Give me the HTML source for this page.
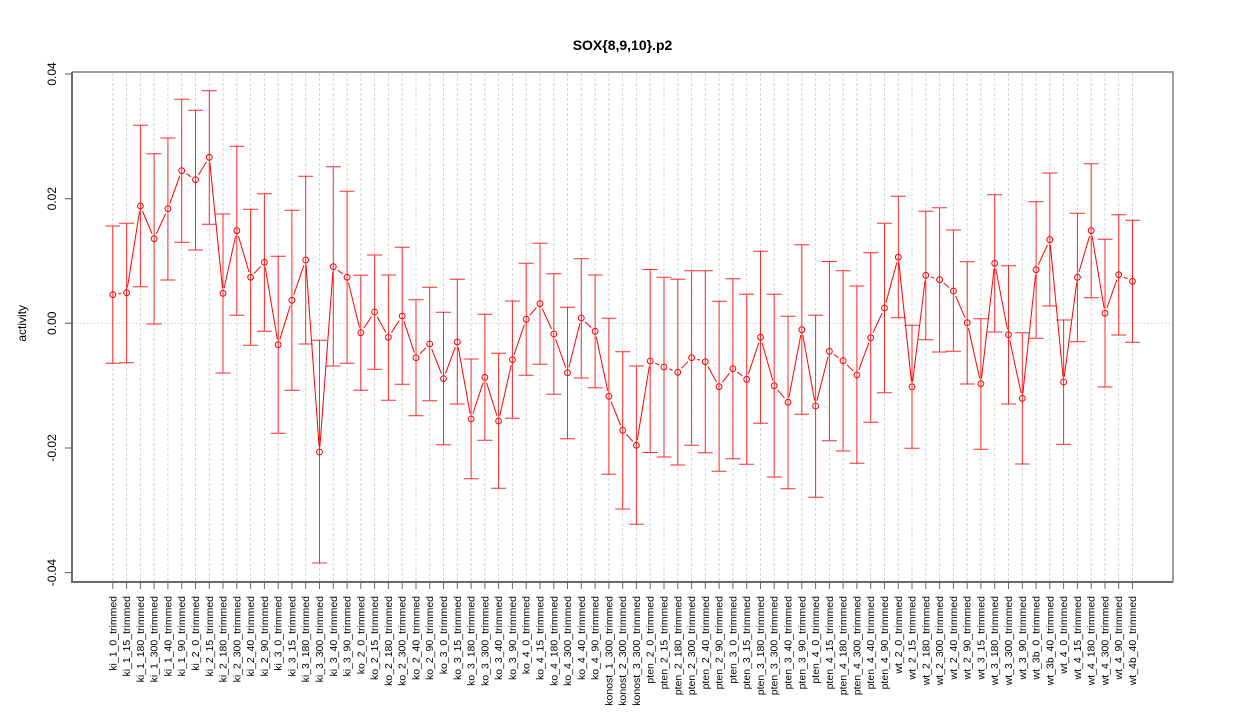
<!DOCTYPE html>
<html>
<head>
<meta charset="utf-8">
<style>
html,body{margin:0;padding:0;background:#fff;}
svg{display:block;}
text{font-family:"Liberation Sans",Arial,sans-serif;fill:#000;}
.xl{font-size:10.5px;text-anchor:end;}
.yl{font-size:12px;text-anchor:middle;}
</style>
</head>
<body>
<svg width="1245" height="720" viewBox="0 0 1245 720" xmlns="http://www.w3.org/2000/svg">
<defs>
<marker id="mk" markerWidth="14" markerHeight="14" refX="7" refY="7" markerUnits="userSpaceOnUse" overflow="visible"><circle cx="7" cy="7" r="5.5" fill="#000"/></marker>
<marker id="pc" markerWidth="14" markerHeight="14" refX="7" refY="7" markerUnits="userSpaceOnUse" overflow="visible"><circle cx="7" cy="7" r="2.9" fill="none" stroke="#ff0000" stroke-width="1"/></marker>
<mask id="gap" maskUnits="userSpaceOnUse" x="0" y="0" width="1245" height="720">
<rect x="0" y="0" width="1245" height="720" fill="#fff"/>
<polyline fill="none" stroke="none" marker-start="url(#mk)" marker-mid="url(#mk)" marker-end="url(#mk)" points="112.8,294.7 126.6,292.7 140.4,206 154.1,238.7 167.9,208.7 181.7,170.7 195.5,179.7 209.3,157.3 223,293.3 236.8,230.7 250.6,277.3 264.4,262.3 278.2,344.7 291.9,300.3 305.7,260 319.5,452 333.3,266.7 347.1,277.3 360.8,332.7 374.6,312 388.4,337.3 402.2,316 416,357.7 429.7,344 443.5,378.7 457.3,342 471.1,419 484.9,377.3 498.6,421 512.4,359.7 526.2,319.3 540,303.7 553.8,334 567.5,372.7 581.3,318 595.1,331.3 608.9,396.3 622.7,430.3 636.4,445.3 650.2,361 664,367 677.8,372.3 691.6,357.7 705.3,361.7 719.1,386.7 732.9,368.7 746.7,379.3 760.5,337.3 774.2,385.7 788,402.3 801.8,329.7 815.6,406 829.4,351.3 843.1,360.7 856.9,375 870.7,337.7 884.5,308 898.3,257.2 912,386.8 925.8,275.3 939.6,279.7 953.4,291 967.2,322.7 980.9,383.7 994.7,263.3 1008.5,334.7 1022.3,398.3 1036.1,269.7 1049.8,239.7 1063.6,382 1077.4,277.3 1091.2,230.7 1105,313.3 1118.7,274.7 1132.5,281.3"/>
</mask>
</defs>

<!-- vertical grid -->
<path fill="none" stroke="#d6d6d6" stroke-width="1" stroke-dasharray="3,2" d="M112.8 73V581M126.6 73V581M140.4 73V581M154.1 73V581M167.9 73V581M181.7 73V581M195.5 73V581M209.3 73V581M223 73V581M236.8 73V581M250.6 73V581M264.4 73V581M278.2 73V581M291.9 73V581M305.7 73V581M319.5 73V581M333.3 73V581M347.1 73V581M360.8 73V581M374.6 73V581M388.4 73V581M402.2 73V581M416 73V581M429.7 73V581M443.5 73V581M457.3 73V581M471.1 73V581M484.9 73V581M498.6 73V581M512.4 73V581M526.2 73V581M540 73V581M553.8 73V581M567.5 73V581M581.3 73V581M595.1 73V581M608.9 73V581M622.7 73V581M636.4 73V581M650.2 73V581M664 73V581M677.8 73V581M691.6 73V581M705.3 73V581M719.1 73V581M732.9 73V581M746.7 73V581M760.5 73V581M774.2 73V581M788 73V581M801.8 73V581M815.6 73V581M829.4 73V581M843.1 73V581M856.9 73V581M870.7 73V581M884.5 73V581M898.3 73V581M912 73V581M925.8 73V581M939.6 73V581M953.4 73V581M967.2 73V581M980.9 73V581M994.7 73V581M1008.5 73V581M1022.3 73V581M1036.1 73V581M1049.8 73V581M1063.6 73V581M1077.4 73V581M1091.2 73V581M1105 73V581M1118.7 73V581M1132.5 73V581"/>
<!-- zero line -->
<path fill="none" stroke="#cfcfcf" stroke-width="1" stroke-dasharray="1.5,2" d="M73 323.3H1172"/>

<!-- error bars -->
<path fill="none" stroke="#ff2a2a" stroke-width="1" d="M112.8 226V363.3M105.3 226h15M105.3 363.3h15M126.6 223.3V362.7M119.1 223.3h15M119.1 362.7h15M140.4 125.3V286.7M132.9 125.3h15M132.9 286.7h15M154.1 153.7V324M146.6 153.7h15M146.6 324h15M167.9 138V280M160.4 138h15M160.4 280h15M181.7 99.3V242.3M174.2 99.3h15M174.2 242.3h15M195.5 110.3V250M188 110.3h15M188 250h15M209.3 90.7V224.3M201.8 90.7h15M201.8 224.3h15M223 214V373M215.5 214h15M215.5 373h15M236.8 146.3V315.3M229.3 146.3h15M229.3 315.3h15M250.6 209.3V345.3M243.1 209.3h15M243.1 345.3h15M264.4 193.7V331.3M256.9 193.7h15M256.9 331.3h15M278.2 256.3V433.3M270.7 256.3h15M270.7 433.3h15M291.9 210.3V390.3M284.4 210.3h15M284.4 390.3h15M305.7 176.3V344M298.2 176.3h15M298.2 344h15M319.5 340.3V563M312 340.3h15M312 563h15M333.3 166.7V366M325.8 166.7h15M325.8 366h15M347.1 191.3V363.3M339.6 191.3h15M339.6 363.3h15M360.8 275.3V390.2M353.3 275.3h15M353.3 390.2h15M374.6 255V369.3M367.1 255h15M367.1 369.3h15M388.4 275V400.3M380.9 275h15M380.9 400.3h15M402.2 247.3V384.3M394.7 247.3h15M394.7 384.3h15M416 299.7V415.7M408.5 299.7h15M408.5 415.7h15M429.7 287.3V400.7M422.2 287.3h15M422.2 400.7h15M443.5 312.3V444.7M436 312.3h15M436 444.7h15M457.3 279.3V404M449.8 279.3h15M449.8 404h15M471.1 359V478.7M463.6 359h15M463.6 478.7h15M484.9 314.3V440.3M477.4 314.3h15M477.4 440.3h15M498.6 353.3V488.3M491.1 353.3h15M491.1 488.3h15M512.4 301V418.3M504.9 301h15M504.9 418.3h15M526.2 263.3V375.3M518.7 263.3h15M518.7 375.3h15M540 243.3V364.3M532.5 243.3h15M532.5 364.3h15M553.8 273.7V394.3M546.3 273.7h15M546.3 394.3h15M567.5 307.3V438.7M560 307.3h15M560 438.7h15M581.3 258.7V378M573.8 258.7h15M573.8 378h15M595.1 275V387.7M587.6 275h15M587.6 387.7h15M608.9 318.3V474.3M601.4 318.3h15M601.4 474.3h15M622.7 351.7V509M615.2 351.7h15M615.2 509h15M636.4 366V524.3M628.9 366h15M628.9 524.3h15M650.2 269.5V452.5M642.7 269.5h15M642.7 452.5h15M664 277.3V457M656.5 277.3h15M656.5 457h15M677.8 279.3V465M670.3 279.3h15M670.3 465h15M691.6 270.7V445.3M684.1 270.7h15M684.1 445.3h15M705.3 270.7V452.7M697.8 270.7h15M697.8 452.7h15M719.1 301.3V471.3M711.6 301.3h15M711.6 471.3h15M732.9 278.7V458.7M725.4 278.7h15M725.4 458.7h15M746.7 294.3V464.3M739.2 294.3h15M739.2 464.3h15M760.5 251.3V423.3M753 251.3h15M753 423.3h15M774.2 294.3V477M766.7 294.3h15M766.7 477h15M788 316.3V488.7M780.5 316.3h15M780.5 488.7h15M801.8 244.7V414.3M794.3 244.7h15M794.3 414.3h15M815.6 315.3V497.3M808.1 315.3h15M808.1 497.3h15M829.4 261.5V440.7M821.9 261.5h15M821.9 440.7h15M843.1 270.7V451M835.6 270.7h15M835.6 451h15M856.9 286V463.3M849.4 286h15M849.4 463.3h15M870.7 252.7V422.3M863.2 252.7h15M863.2 422.3h15M884.5 223.3V392.7M877 223.3h15M877 392.7h15M898.3 196.3V317.7M890.8 196.3h15M890.8 317.7h15M912 325.3V448.2M904.5 325.3h15M904.5 448.2h15M925.8 211.3V339.7M918.3 211.3h15M918.3 339.7h15M939.6 207.7V352M932.1 207.7h15M932.1 352h15M953.4 230V351.3M945.9 230h15M945.9 351.3h15M967.2 261.7V384M959.7 261.7h15M959.7 384h15M980.9 318.7V449.3M973.4 318.7h15M973.4 449.3h15M994.7 194.7V332M987.2 194.7h15M987.2 332h15M1008.5 265.7V404M1001 265.7h15M1001 404h15M1022.3 332.7V464M1014.8 332.7h15M1014.8 464h15M1036.1 201.7V338.3M1028.6 201.7h15M1028.6 338.3h15M1049.8 173V306M1042.3 173h15M1042.3 306h15M1063.6 320V444.3M1056.1 320h15M1056.1 444.3h15M1077.4 213.3V341.7M1069.9 213.3h15M1069.9 341.7h15M1091.2 163.7V297.7M1083.7 163.7h15M1083.7 297.7h15M1105 239.3V387M1097.5 239.3h15M1097.5 387h15M1118.7 214.7V335M1111.2 214.7h15M1111.2 335h15M1132.5 220.3V342.3M1125 220.3h15M1125 342.3h15"/>

<!-- connecting line with gaps (type b) -->
<polyline fill="none" stroke="#ff0000" stroke-width="1" mask="url(#gap)" points="112.8,294.7 126.6,292.7 140.4,206 154.1,238.7 167.9,208.7 181.7,170.7 195.5,179.7 209.3,157.3 223,293.3 236.8,230.7 250.6,277.3 264.4,262.3 278.2,344.7 291.9,300.3 305.7,260 319.5,452 333.3,266.7 347.1,277.3 360.8,332.7 374.6,312 388.4,337.3 402.2,316 416,357.7 429.7,344 443.5,378.7 457.3,342 471.1,419 484.9,377.3 498.6,421 512.4,359.7 526.2,319.3 540,303.7 553.8,334 567.5,372.7 581.3,318 595.1,331.3 608.9,396.3 622.7,430.3 636.4,445.3 650.2,361 664,367 677.8,372.3 691.6,357.7 705.3,361.7 719.1,386.7 732.9,368.7 746.7,379.3 760.5,337.3 774.2,385.7 788,402.3 801.8,329.7 815.6,406 829.4,351.3 843.1,360.7 856.9,375 870.7,337.7 884.5,308 898.3,257.2 912,386.8 925.8,275.3 939.6,279.7 953.4,291 967.2,322.7 980.9,383.7 994.7,263.3 1008.5,334.7 1022.3,398.3 1036.1,269.7 1049.8,239.7 1063.6,382 1077.4,277.3 1091.2,230.7 1105,313.3 1118.7,274.7 1132.5,281.3"/>
<!-- point circles -->
<polyline fill="none" stroke="none" marker-start="url(#pc)" marker-mid="url(#pc)" marker-end="url(#pc)" points="112.8,294.7 126.6,292.7 140.4,206 154.1,238.7 167.9,208.7 181.7,170.7 195.5,179.7 209.3,157.3 223,293.3 236.8,230.7 250.6,277.3 264.4,262.3 278.2,344.7 291.9,300.3 305.7,260 319.5,452 333.3,266.7 347.1,277.3 360.8,332.7 374.6,312 388.4,337.3 402.2,316 416,357.7 429.7,344 443.5,378.7 457.3,342 471.1,419 484.9,377.3 498.6,421 512.4,359.7 526.2,319.3 540,303.7 553.8,334 567.5,372.7 581.3,318 595.1,331.3 608.9,396.3 622.7,430.3 636.4,445.3 650.2,361 664,367 677.8,372.3 691.6,357.7 705.3,361.7 719.1,386.7 732.9,368.7 746.7,379.3 760.5,337.3 774.2,385.7 788,402.3 801.8,329.7 815.6,406 829.4,351.3 843.1,360.7 856.9,375 870.7,337.7 884.5,308 898.3,257.2 912,386.8 925.8,275.3 939.6,279.7 953.4,291 967.2,322.7 980.9,383.7 994.7,263.3 1008.5,334.7 1022.3,398.3 1036.1,269.7 1049.8,239.7 1063.6,382 1077.4,277.3 1091.2,230.7 1105,313.3 1118.7,274.7 1132.5,281.3"/>

<!-- box -->
<path fill="none" stroke="#a0a0a0" stroke-width="2" d="M72 72H1173V582"/>
<path fill="none" stroke="#6a6a6a" stroke-width="2" d="M72 72V582H1173"/>
<!-- y ticks -->
<path fill="none" stroke="#555" stroke-width="1" d="M65 74H72M65 198.7H72M65 323.3H72M65 448H72M65 572.6H72"/>
<!-- x ticks -->
<path fill="none" stroke="#666" stroke-width="1" d="M112.8 583v6M126.6 583v6M140.4 583v6M154.1 583v6M167.9 583v6M181.7 583v6M195.5 583v6M209.3 583v6M223 583v6M236.8 583v6M250.6 583v6M264.4 583v6M278.2 583v6M291.9 583v6M305.7 583v6M319.5 583v6M333.3 583v6M347.1 583v6M360.8 583v6M374.6 583v6M388.4 583v6M402.2 583v6M416 583v6M429.7 583v6M443.5 583v6M457.3 583v6M471.1 583v6M484.9 583v6M498.6 583v6M512.4 583v6M526.2 583v6M540 583v6M553.8 583v6M567.5 583v6M581.3 583v6M595.1 583v6M608.9 583v6M622.7 583v6M636.4 583v6M650.2 583v6M664 583v6M677.8 583v6M691.6 583v6M705.3 583v6M719.1 583v6M732.9 583v6M746.7 583v6M760.5 583v6M774.2 583v6M788 583v6M801.8 583v6M815.6 583v6M829.4 583v6M843.1 583v6M856.9 583v6M870.7 583v6M884.5 583v6M898.3 583v6M912 583v6M925.8 583v6M939.6 583v6M953.4 583v6M967.2 583v6M980.9 583v6M994.7 583v6M1008.5 583v6M1022.3 583v6M1036.1 583v6M1049.8 583v6M1063.6 583v6M1077.4 583v6M1091.2 583v6M1105 583v6M1118.7 583v6M1132.5 583v6"/>

<!-- y tick labels -->
<text class="yl" transform="translate(56,74) rotate(-90)">0.04</text>
<text class="yl" transform="translate(56,198.7) rotate(-90)">0.02</text>
<text class="yl" transform="translate(56,323.3) rotate(-90)">0.00</text>
<text class="yl" transform="translate(56,448) rotate(-90)">-0.02</text>
<text class="yl" transform="translate(56,572.6) rotate(-90)">-0.04</text>

<!-- axis title -->
<text class="yl" transform="translate(26,323.3) rotate(-90)">activity</text>
<text x="622.5" y="50" style="font-size:14px;font-weight:bold;text-anchor:middle;">SOX{8,9,10}.p2</text>

<!-- x labels -->
<text class="xl" transform="translate(116.3,596) rotate(-90)">ki_1_0_trimmed</text>
<text class="xl" transform="translate(130.1,596) rotate(-90)">ki_1_15_trimmed</text>
<text class="xl" transform="translate(143.9,596) rotate(-90)">ki_1_180_trimmed</text>
<text class="xl" transform="translate(157.6,596) rotate(-90)">ki_1_300_trimmed</text>
<text class="xl" transform="translate(171.4,596) rotate(-90)">ki_1_40_trimmed</text>
<text class="xl" transform="translate(185.2,596) rotate(-90)">ki_1_90_trimmed</text>
<text class="xl" transform="translate(199,596) rotate(-90)">ki_2_0_trimmed</text>
<text class="xl" transform="translate(212.8,596) rotate(-90)">ki_2_15_trimmed</text>
<text class="xl" transform="translate(226.5,596) rotate(-90)">ki_2_180_trimmed</text>
<text class="xl" transform="translate(240.3,596) rotate(-90)">ki_2_300_trimmed</text>
<text class="xl" transform="translate(254.1,596) rotate(-90)">ki_2_40_trimmed</text>
<text class="xl" transform="translate(267.9,596) rotate(-90)">ki_2_90_trimmed</text>
<text class="xl" transform="translate(281.7,596) rotate(-90)">ki_3_0_trimmed</text>
<text class="xl" transform="translate(295.4,596) rotate(-90)">ki_3_15_trimmed</text>
<text class="xl" transform="translate(309.2,596) rotate(-90)">ki_3_180_trimmed</text>
<text class="xl" transform="translate(323,596) rotate(-90)">ki_3_300_trimmed</text>
<text class="xl" transform="translate(336.8,596) rotate(-90)">ki_3_40_trimmed</text>
<text class="xl" transform="translate(350.6,596) rotate(-90)">ki_3_90_trimmed</text>
<text class="xl" transform="translate(364.3,596) rotate(-90)">ko_2_0_trimmed</text>
<text class="xl" transform="translate(378.1,596) rotate(-90)">ko_2_15_trimmed</text>
<text class="xl" transform="translate(391.9,596) rotate(-90)">ko_2_180_trimmed</text>
<text class="xl" transform="translate(405.7,596) rotate(-90)">ko_2_300_trimmed</text>
<text class="xl" transform="translate(419.5,596) rotate(-90)">ko_2_40_trimmed</text>
<text class="xl" transform="translate(433.2,596) rotate(-90)">ko_2_90_trimmed</text>
<text class="xl" transform="translate(447,596) rotate(-90)">ko_3_0_trimmed</text>
<text class="xl" transform="translate(460.8,596) rotate(-90)">ko_3_15_trimmed</text>
<text class="xl" transform="translate(474.6,596) rotate(-90)">ko_3_180_trimmed</text>
<text class="xl" transform="translate(488.4,596) rotate(-90)">ko_3_300_trimmed</text>
<text class="xl" transform="translate(502.1,596) rotate(-90)">ko_3_40_trimmed</text>
<text class="xl" transform="translate(515.9,596) rotate(-90)">ko_3_90_trimmed</text>
<text class="xl" transform="translate(529.7,596) rotate(-90)">ko_4_0_trimmed</text>
<text class="xl" transform="translate(543.5,596) rotate(-90)">ko_4_15_trimmed</text>
<text class="xl" transform="translate(557.3,596) rotate(-90)">ko_4_180_trimmed</text>
<text class="xl" transform="translate(571,596) rotate(-90)">ko_4_300_trimmed</text>
<text class="xl" transform="translate(584.8,596) rotate(-90)">ko_4_40_trimmed</text>
<text class="xl" transform="translate(598.6,596) rotate(-90)">ko_4_90_trimmed</text>
<text class="xl" transform="translate(612.4,596) rotate(-90)">konost_1_300_trimmed</text>
<text class="xl" transform="translate(626.2,596) rotate(-90)">konost_2_300_trimmed</text>
<text class="xl" transform="translate(639.9,596) rotate(-90)">konost_3_300_trimmed</text>
<text class="xl" transform="translate(653.7,596) rotate(-90)">pten_2_0_trimmed</text>
<text class="xl" transform="translate(667.5,596) rotate(-90)">pten_2_15_trimmed</text>
<text class="xl" transform="translate(681.3,596) rotate(-90)">pten_2_180_trimmed</text>
<text class="xl" transform="translate(695.1,596) rotate(-90)">pten_2_300_trimmed</text>
<text class="xl" transform="translate(708.8,596) rotate(-90)">pten_2_40_trimmed</text>
<text class="xl" transform="translate(722.6,596) rotate(-90)">pten_2_90_trimmed</text>
<text class="xl" transform="translate(736.4,596) rotate(-90)">pten_3_0_trimmed</text>
<text class="xl" transform="translate(750.2,596) rotate(-90)">pten_3_15_trimmed</text>
<text class="xl" transform="translate(764,596) rotate(-90)">pten_3_180_trimmed</text>
<text class="xl" transform="translate(777.7,596) rotate(-90)">pten_3_300_trimmed</text>
<text class="xl" transform="translate(791.5,596) rotate(-90)">pten_3_40_trimmed</text>
<text class="xl" transform="translate(805.3,596) rotate(-90)">pten_3_90_trimmed</text>
<text class="xl" transform="translate(819.1,596) rotate(-90)">pten_4_0_trimmed</text>
<text class="xl" transform="translate(832.9,596) rotate(-90)">pten_4_15_trimmed</text>
<text class="xl" transform="translate(846.6,596) rotate(-90)">pten_4_180_trimmed</text>
<text class="xl" transform="translate(860.4,596) rotate(-90)">pten_4_300_trimmed</text>
<text class="xl" transform="translate(874.2,596) rotate(-90)">pten_4_40_trimmed</text>
<text class="xl" transform="translate(888,596) rotate(-90)">pten_4_90_trimmed</text>
<text class="xl" transform="translate(901.8,596) rotate(-90)">wt_2_0_trimmed</text>
<text class="xl" transform="translate(915.5,596) rotate(-90)">wt_2_15_trimmed</text>
<text class="xl" transform="translate(929.3,596) rotate(-90)">wt_2_180_trimmed</text>
<text class="xl" transform="translate(943.1,596) rotate(-90)">wt_2_300_trimmed</text>
<text class="xl" transform="translate(956.9,596) rotate(-90)">wt_2_40_trimmed</text>
<text class="xl" transform="translate(970.7,596) rotate(-90)">wt_2_90_trimmed</text>
<text class="xl" transform="translate(984.4,596) rotate(-90)">wt_3_15_trimmed</text>
<text class="xl" transform="translate(998.2,596) rotate(-90)">wt_3_180_trimmed</text>
<text class="xl" transform="translate(1012,596) rotate(-90)">wt_3_300_trimmed</text>
<text class="xl" transform="translate(1025.8,596) rotate(-90)">wt_3_90_trimmed</text>
<text class="xl" transform="translate(1039.6,596) rotate(-90)">wt_3b_0_trimmed</text>
<text class="xl" transform="translate(1053.3,596) rotate(-90)">wt_3b_40_trimmed</text>
<text class="xl" transform="translate(1067.1,596) rotate(-90)">wt_4_0_trimmed</text>
<text class="xl" transform="translate(1080.9,596) rotate(-90)">wt_4_15_trimmed</text>
<text class="xl" transform="translate(1094.7,596) rotate(-90)">wt_4_180_trimmed</text>
<text class="xl" transform="translate(1108.5,596) rotate(-90)">wt_4_300_trimmed</text>
<text class="xl" transform="translate(1122.2,596) rotate(-90)">wt_4_90_trimmed</text>
<text class="xl" transform="translate(1136,596) rotate(-90)">wt_4b_40_trimmed</text>
</svg>
</body>
</html>
